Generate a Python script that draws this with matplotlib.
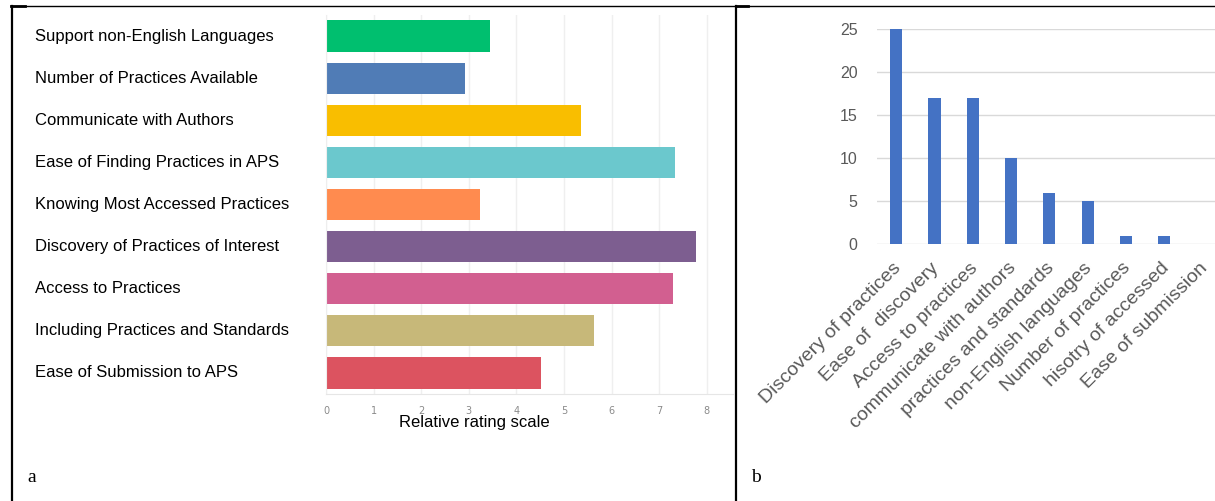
import matplotlib
matplotlib.use("Agg")
import matplotlib.pyplot as plt
import matplotlib.transforms as mtransforms
from matplotlib.lines import Line2D

# data, panel a (relative rating)
features = ["Support non-English Languages", "Number of Practices Available",
            "Communicate with Authors", "Ease of Finding Practices in APS",
            "Knowing Most Accessed Practices", "Discovery of Practices of Interest",
            "Access to Practices", "Including Practices and Standards",
            "Ease of Submission to APS"]
ratings = [3.45, 2.93, 5.36, 7.34, 3.24, 7.77, 7.30, 5.63, 4.52]
bar_colors = ["#00BF6F", "#507CB6", "#F9BE00", "#6BC8CD", "#FF8B4F",
              "#7D5E90", "#D25F90", "#C7B879", "#DC5360"]
rating_ticks = [0, 1, 2, 3, 4, 5, 6, 7, 8]

# data, panel b (counts)
topics = ["Discovery of practices", "Ease of  discovery", "Access to practices",
          "communicate with authors", "practices and standards",
          "non-English languages", "Number of practices",
          "hisotry of accessed", "Ease of submission"]
counts = [25, 17, 17, 10, 6, 5, 1, 1, 0]
count_ticks = [0, 5, 10, 15, 20, 25]

W, H = 1215, 501
fig = plt.figure(figsize=(W / 100, H / 100), dpi=100)


def px_axes(x0, y0, x1, y1):
    # pixel box (top-left origin) -> figure axes
    return fig.add_axes([x0 / W, 1 - y1 / H, (x1 - x0) / W, (y1 - y0) / H])


#%% panel a
ax1 = px_axes(326, 15, 733, 394)
ypos = list(range(len(features)))
ax1.barh(ypos, ratings, height=0.74, color=bar_colors, zorder=2)
ax1.set_xlim(0, 8.55)
ax1.set_ylim(len(features) - 0.5, -0.5)
ax1.set_xticks(rating_ticks)
ax1.set_xticklabels([str(t) for t in rating_ticks])
ax1.grid(axis="x", color="#efefef", linewidth=1, zorder=0)
ax1.tick_params(axis="x", length=0, labelsize=7, labelcolor="#8a8a8a", pad=9)
ax1.set_yticks(ypos)
ax1.set_yticklabels([])
ax1.tick_params(axis="y", length=0)
for s in ["top", "right"]:
    ax1.spines[s].set_visible(False)
ax1.spines["left"].set_color("#eeeeee")
ax1.spines["bottom"].set_color("#e6e6e6")
lab_trans = mtransforms.blended_transform_factory(fig.transFigure, ax1.transData)
for y, name in zip(ypos, features):
    ax1.text(35 / W, y, name, transform=lab_trans,
             ha="left", va="center", fontsize=12, family="Liberation Sans")
fig.text(474 / W, 1 - 423 / H, "Relative rating scale", ha="center", va="center",
         fontsize=12, family="Liberation Sans")

#%% panel b
ax2 = px_axes(877, 29.3, 877 + 9 * 38.3, 244.3)
xpos = list(range(len(topics)))
ax2.bar(xpos, counts, width=0.32, color="#4472C4", zorder=2)
ax2.set_xlim(-0.5, len(topics) - 0.5)
ax2.set_ylim(0, 25)
ax2.set_yticks(count_ticks)
ax2.grid(axis="y", color="#d9d9d9", linewidth=1, zorder=0)
ax2.tick_params(axis="y", length=0, labelsize=11.5, labelcolor="#595959", pad=14)
ax2.set_xticks(xpos)
ax2.set_xticklabels(topics, rotation=45, ha="right", rotation_mode="anchor",
                    fontsize=14, color="#595959", family="Liberation Sans")
ax2.tick_params(axis="x", length=0, pad=11)
shift = mtransforms.ScaledTranslation(-4 / 100, 0, fig.dpi_scale_trans)
for lab in ax2.get_xticklabels():
    lab.set_transform(lab.get_transform() + shift)
for s in ax2.spines.values():
    s.set_visible(False)
for lab in ax2.get_yticklabels():
    lab.set_family("Liberation Sans")

#%% table borders and panel letters
def px_line(x0, y0, x1, y1, lw):
    fig.add_artist(Line2D([x0 / W, x1 / W], [1 - y0 / H, 1 - y1 / H],
                          color="black", linewidth=lw, transform=fig.transFigure))

px_line(11, 6, W, 6, 1.0)
px_line(11, 6, 25, 6, 2.0)
px_line(736, 6, 748, 6, 2.0)
px_line(11.5, 6, 11.5, H, 1.6)
px_line(736, 6, 736, H, 1.6)

fig.text(27 / W, 1 - 477 / H, "a", ha="left", va="center", fontsize=14,
         family="Liberation Serif")
fig.text(751 / W, 1 - 477 / H, "b", ha="left", va="center", fontsize=14,
         family="Liberation Serif")

fig.savefig("out.png", dpi=100)
